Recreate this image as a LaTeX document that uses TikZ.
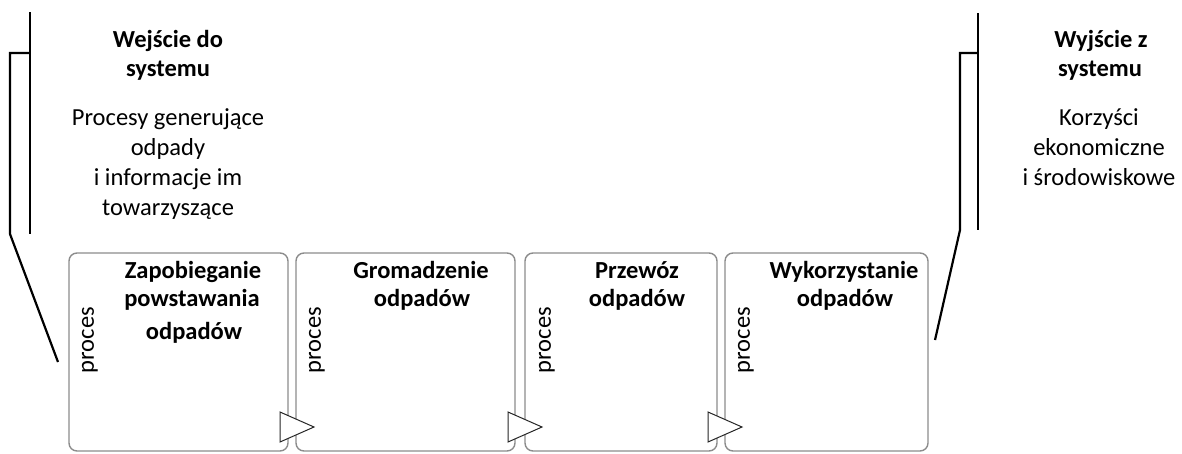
\documentclass[tikz,border=0pt]{standalone}
\usepackage{fontspec}
\setmainfont{Carlito}
\begin{document}
\begin{tikzpicture}[x=1pt,y=-1pt,
  procbox/.style={draw=black!45,line width=1.4pt,rounded corners=8pt,inner sep=0pt},
  bracket/.style={draw=black,line width=2.2pt},
  tri/.style={draw=black!85,fill=white,line width=1pt,line join=miter},
  title/.style={font=\fontsize{24.5}{30}\selectfont\bfseries,align=center,inner sep=0pt,anchor=base},
  body/.style={font=\fontsize{24.5}{30}\selectfont,align=center,inner sep=0pt,anchor=base},
  proclab/.style={font=\fontsize{24.5}{30}\selectfont,rotate=90,inner sep=0pt}]
\useasboundingbox (0,0) rectangle (1182,453);
\clip (0,0) rectangle (1182,453);
% boxes
\draw[procbox] (69,253) rectangle (288,451);
\draw[procbox] (296,253) rectangle (515,451);
\draw[procbox] (525,253) rectangle (717,451);
\draw[procbox] (725,253) rectangle (928,451);
\node[proclab] (p1) at (90,340) {proces};
\node[proclab] (p2) at (317,340) {proces};
\node[proclab] (p3) at (547,340) {proces};
\node[proclab] (p4) at (746,340) {proces};
% titles
\node[title] (t1a) at (193,278) {Zapobieganie};
\node[title] (t1b) at (192,306) {powstawania};
\node[title] (t1c) at (194,339) {odpadów};
\node[title] (t2a) at (421,278) {Gromadzenie};
\node[title] (t2b) at (422,306) {odpadów};
\node[title] (t3a) at (637,278) {Przewóz};
\node[title] (t3b) at (637,306) {odpadów};
\node[title] (t4a) at (844,278) {Wykorzystanie};
\node[title] (t4b) at (845,306) {odpadów};
% triangles
\draw[tri] (280,412) -- (314,427) -- (280,442) -- cycle;
\draw[tri] (508,412) -- (542,427) -- (508,442) -- cycle;
\draw[tri] (708,412) -- (742,427) -- (708,442) -- cycle;
% left bracket
\draw[bracket] (30,12) -- (30,234);
\draw[bracket] (30,53) -- (10,53) -- (10,234) -- (58,362);
% right bracket
\draw[bracket] (978,13) -- (978,230);
\draw[bracket] (978,53) -- (960,53) -- (960,230) -- (935,340);
% left texts
\node[title] (in1) at (168,47) {Wejście do};
\node[title] (in2) at (168,76) {systemu};
\node[body] (in3) at (168,125) {Procesy generujące};
\node[body] (in4) at (168,155) {odpady};
\node[body] (in5) at (168,185) {i informacje im};
\node[body] (in6) at (168,215) {towarzyszące};
% right texts
\node[title] (out1) at (1101,47) {Wyjście z};
\node[title] (out2) at (1100,76) {systemu};
\node[body] (out3) at (1099,125) {Korzyści};
\node[body] (out4) at (1099,155) {ekonomiczne};
\node[body] (out5) at (1099,185) {i środowiskowe};
\end{tikzpicture}
\end{document}
